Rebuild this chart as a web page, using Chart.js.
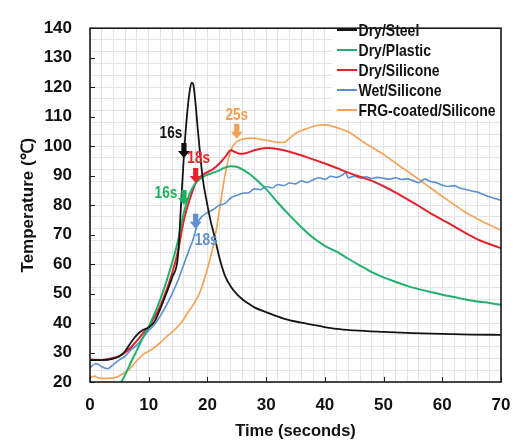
<!DOCTYPE html>
<html><head><meta charset="utf-8">
<script src="https://cdn.jsdelivr.net/npm/chart.js@4.4.1/dist/chart.umd.min.js"></script>
<style>html,body{margin:0;padding:0;background:#fff}</style>
</head><body>
<canvas id="c" width="530" height="442"></canvas>
<script>
// ---- data ----
const seriesNames = ['Dry/Steel', 'Dry/Plastic', 'Dry/Silicone', 'Wet/Silicone', 'FRG-coated/Silicone'];

const steelTime = [0,2,4,5,6,7,8,9,10,11,12,13,14,15,15.5,16,16.5,17,17.35,17.6,17.9,18.3,18.7,19.2,19.8,20.5,21.2,22,23,24,25,26,27,28,30,33,36,39,42,45,50,55,60,65,70];
const steelTemp = [27.4,27.4,27.9,28.7,30.5,33.5,36,37.6,38.5,40.5,45,50,55.5,63,80,97,110,119,121.5,120.8,116,107,98.5,89,82,75,69.5,62.5,56,52.3,49.8,48,46.6,45.3,43.7,41.5,40.1,39,38,37.5,37,36.6,36.3,36.1,36];

const plasticTime = [4.8,6,7,8,9,10,11,12,13,14,15,16,17,18,19,20,21,22,23,24,25,26,27,28,30,32,34,36,38,40,42,44,46,48,50,52,54,56,58,60,62,64,66,68,70];
const plasticTemp = [18,22.5,26.8,30.8,35,38.8,43.2,48.2,54,60.5,68,77.5,84,87.5,89.3,90.3,91,91.8,92.7,93.2,93,92,90.8,89.2,85.4,80.8,76.5,72.5,68.9,66.2,64.2,61.8,59.5,57.3,55.5,54,52.6,51.5,50.5,49.6,48.8,48,47.3,46.8,46.2];

const siliconeTime = [0,2,4,5,6,7,8,9,10,11,12,13,14,15,16,17,18,19,20,21,22,23,24,24.7,25.5,26.5,28,30,31,33,35,37,40,42,44,46,48,50,52,54,56,58,60,62,64,66,68,70];
const siliconeTemp = [27.6,27.5,28.2,28.8,30,31.8,34,36.5,38.8,42,46,51,57,64.5,75,82,87.5,90,91.2,92.3,94,96.3,98.6,98,97.4,97.6,98.6,99.4,99.3,98.6,97.5,96.2,94.1,92.6,91,89.6,88.2,86.4,84.3,82,79.7,77.2,75,72.8,70.5,68.4,66.8,65.4];

const wetTime = [0,1,2,3,4,5,6,7,8,9,10,11,12,13,14,15,16,17,17.5,18,18.5,19,20,21,22,23,24,25,26,27,28,29,30,31,32,33,34,35,36,37,38,39,40,41,42,43,43.5,44,45,46,47,48,49,50,51,52,53,54,55,56,57,58,59,60,61,62,63,64,65,66,67,68,69,70];
const wetTemp = [24.8,26.3,25.2,24.5,26,27.5,28.8,31,32.5,35,37.5,39.5,42.5,46,50,54.5,60,65.5,68,71.5,74.5,76,77.5,78.5,80,80.5,82.5,83.3,84,84.2,85.5,85.2,86.3,85.8,87,86.6,87.5,87.2,88.2,87.7,88.6,89.3,88.7,89.8,89.4,90.2,91,89.2,89.8,89.2,89.6,89,89.4,89.1,88.8,89.3,88.7,88.9,88.3,87.6,88.8,88,87.6,86.8,86.3,86.6,85.8,85.3,84.8,84.4,83.6,82.8,82.2,81.6,81.3];

const frgTime = [0,0.8,1.5,3,4.5,5.5,6.5,8,9,10.5,12,13,14.4,15.5,16.5,17.5,18.7,19.5,20,20.8,21.5,22.1,22.8,23.5,24.2,25,26,27.8,29,30.6,32,33,34,35,36,37,38.6,40,41.5,43,44.3,45.4,47,50,52,55.7,58,61.4,64,66,68,70];
const frgTemp = [21.5,22,21.3,21.2,21.6,22.6,24,27.3,29.3,31,33.4,35.3,37.7,40,43,46,50.3,55,58.5,64.5,71.5,79,88,95,99.5,101.5,102.4,102.7,102.3,101.8,101.3,101.3,102.7,104.3,105.3,106,107,107.2,106.6,105.6,104.5,103,100.8,97.2,94.3,89.2,85.8,81,77.5,75.3,73.3,71.5];

const xTickLabels = [0,10,20,30,40,50,60,70];
const yTickLabels = [20,30,40,50,60,70,80,90,100,110,120,130,140];

// annotations: time of arrow, temperature at arrow tip, label text
const markTimes = [16, 18, 16, 18, 25];
const markTemps = [96, 87.5, 80, 72, 102.5];
const markLabels = ['16s', '18s', '16s', '18s', '25s'];

// ---- styles ----
const colors = ['#151515', '#20b06c', '#e3232b', '#5b8fd2', '#f3a35a'];
const widths = [1.8, 2, 2, 1.6, 1.7];
const markColors = ['#111111', '#e8222a', '#1eb060', '#5a8fd2', '#f29e55'];
const markLabelOffsets = [[-13, -9], [3, -9], [-18, 3.5], [10.5, 27], [0, -8.5]];
const FONT = "'Liberation Sans', Arial, sans-serif";
const SQUEEZE = 0.85;

function pts(t, v) { return t.map((x, i) => ({ x: x, y: v[i] })); }
const timeArrays = [steelTime, plasticTime, siliconeTime, wetTime, frgTime];
const tempArrays = [steelTemp, plasticTemp, siliconeTemp, wetTemp, frgTemp];

const datasets = seriesNames.map((n, i) => ({
  label: n,
  data: pts(timeArrays[i], tempArrays[i]),
  borderColor: colors[i],
  backgroundColor: colors[i],
  borderWidth: widths[i],
  pointRadius: 0,
  fill: false,
  cubicInterpolationMode: 'monotone'
}));

function narrowText(ctx, text, x, y) {
  ctx.save();
  ctx.translate(x, y);
  ctx.scale(SQUEEZE, 1);
  ctx.fillText(text, 0, 0);
  ctx.restore();
}

const decor = {
  id: 'decor',
  beforeDatasetsDraw(chart) {
    const ctx = chart.ctx, a = chart.chartArea;
    ctx.save();
    ctx.fillStyle = '#fff';
    ctx.fillRect(332, a.top + 1, a.right - 333, 119 - a.top);
    ctx.font = 'bold 16.5px ' + FONT;
    ctx.textBaseline = 'middle';
    ctx.textAlign = 'left';
    chart.data.datasets.forEach((d, i) => {
      const y = 30 + i * 20;
      ctx.strokeStyle = d.borderColor;
      ctx.lineWidth = 2;
      ctx.beginPath(); ctx.moveTo(337, y); ctx.lineTo(357, y); ctx.stroke();
      ctx.fillStyle = '#111';
      narrowText(ctx, d.label, 358.5, y + 1);
    });
    ctx.restore();
  },
  afterDatasetsDraw(chart) {
    const ctx = chart.ctx, a = chart.chartArea;
    const xs = chart.scales.x, ys = chart.scales.y;
    ctx.save();
    ctx.strokeStyle = '#222'; ctx.lineWidth = 1;
    xTickLabels.forEach(v => {
      const x = Math.round(xs.getPixelForValue(v)) + 0.5;
      ctx.beginPath(); ctx.moveTo(x, a.bottom); ctx.lineTo(x, a.bottom - 5); ctx.stroke();
    });
    yTickLabels.forEach(v => {
      const y = Math.round(ys.getPixelForValue(v)) + 0.5;
      ctx.beginPath(); ctx.moveTo(a.left, y); ctx.lineTo(a.left + 5, y); ctx.stroke();
    });
    ctx.lineWidth = 1.6; ctx.strokeStyle = '#1a1a1a';
    ctx.strokeRect(a.left, a.top, a.right - a.left, a.bottom - a.top);
    ctx.font = 'bold 16px ' + FONT;
    ctx.textAlign = 'center'; ctx.textBaseline = 'middle';
    markTimes.forEach((t, i) => {
      const x = xs.getPixelForValue(t), tip = ys.getPixelForValue(markTemps[i]);
      const L = 15, sw = 2.6, hw = 6, hl = 7;
      ctx.fillStyle = markColors[i];
      ctx.beginPath();
      ctx.moveTo(x - sw, tip - L); ctx.lineTo(x + sw, tip - L); ctx.lineTo(x + sw, tip - hl);
      ctx.lineTo(x + hw, tip - hl); ctx.lineTo(x, tip); ctx.lineTo(x - hw, tip - hl);
      ctx.lineTo(x - sw, tip - hl); ctx.closePath(); ctx.fill();
      const o = markLabelOffsets[i];
      narrowText(ctx, markLabels[i], x + o[0], tip - L + o[1]);
    });
    ctx.restore();
  }
};

new Chart(document.getElementById('c'), {
  type: 'line',
  data: { datasets: datasets },
  plugins: [decor],
  options: {
    responsive: false,
    animation: false,
    layout: { padding: { top: 17, right: 29, left: 0, bottom: 0 } },
    plugins: { legend: { display: false }, tooltip: { enabled: false } },
    scales: {
      x: {
        type: 'linear', min: 0, max: 70,
        ticks: {
          stepSize: 2, autoSkip: false, maxRotation: 0, padding: 13, color: '#111',
          font: { family: FONT, size: 17, weight: 'bold' },
          callback: v => (xTickLabels.includes(v) ? String(v) : '')
        },
        grid: { color: '#e4e4e4', lineWidth: 1, drawTicks: false },
        border: { display: false },
        title: { display: true, text: 'Time (seconds)', color: '#111',
                 font: { family: FONT, size: 16.5, weight: 'bold', lineHeight: 1.2 },
                 padding: { top: 0, bottom: 1 } },
        afterFit: s => { s.height = 60; }
      },
      y: {
        type: 'linear', min: 20, max: 140,
        ticks: {
          stepSize: 2, autoSkip: false, padding: 18, color: '#111',
          font: { family: FONT, size: 17, weight: 'bold' },
          callback: v => (yTickLabels.includes(v) ? String(v) : '')
        },
        grid: { color: c => (c.tick && c.tick.value % 4 === 0 ? '#e4e4e4' : 'rgba(0,0,0,0)'), lineWidth: 1, drawTicks: false },
        border: { display: false },
        title: { display: true, text: 'Temperature (℃)', color: '#111',
                 font: { family: FONT, size: 17, weight: 'bold', lineHeight: 1.2 },
                 padding: { top: 18, bottom: 0 } },
        afterFit: s => { s.width = 90; }
      }
    }
  }
});
</script>
</body></html>
